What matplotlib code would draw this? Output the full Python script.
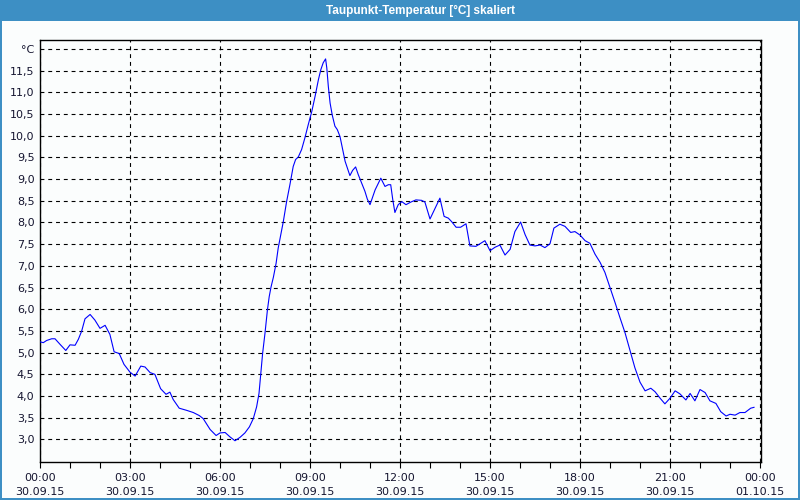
import matplotlib
matplotlib.use("Agg")
import matplotlib.pyplot as plt
from matplotlib.patches import Rectangle
from matplotlib.ticker import FixedLocator, MultipleLocator

title = "Taupunkt-Temperatur [°C] skaliert"

hours = [0.0, 0.11, 0.22, 0.39, 0.5, 0.67, 0.86, 1.0, 1.17, 1.28, 1.39, 1.5, 1.67, 1.83,
         2.0, 2.17, 2.33, 2.47, 2.64, 2.8, 3.0, 3.17, 3.36, 3.5, 3.67, 3.83, 4.02, 4.2,
         4.33, 4.44, 4.64, 4.89, 5.11, 5.31, 5.44, 5.67, 5.87, 6.0, 6.17, 6.33, 6.5, 6.67,
         6.83, 6.98, 7.11, 7.22, 7.3, 7.36, 7.42, 7.5, 7.58, 7.64, 7.7, 7.78, 7.87, 7.94,
         8.02, 8.11, 8.22, 8.33, 8.44, 8.52, 8.61, 8.72, 8.83, 8.94, 9.06, 9.17, 9.28, 9.36,
         9.44, 9.52, 9.56, 9.61, 9.67, 9.74, 9.83, 9.91, 10.0, 10.09, 10.17, 10.26, 10.33,
         10.42, 10.52, 10.61, 10.72, 10.83, 10.91, 11.0, 11.17, 11.36, 11.5, 11.61, 11.69,
         11.76, 11.83, 11.94, 12.06, 12.2, 12.36, 12.53, 12.72, 12.83, 13.0, 13.17, 13.33,
         13.47, 13.61, 13.72, 13.87, 14.02, 14.2, 14.33, 14.53, 14.69, 14.83, 15.0, 15.17,
         15.33, 15.5, 15.67, 15.83, 16.02, 16.17, 16.33, 16.5, 16.67, 16.83, 17.0, 17.13,
         17.33, 17.5, 17.69, 17.83, 18.0, 18.17, 18.33, 18.5, 18.67, 18.83, 19.0, 19.17,
         19.33, 19.5, 19.67, 19.83, 20.0, 20.17, 20.36, 20.5, 20.67, 20.83, 21.0, 21.17,
         21.33, 21.53, 21.67, 21.83, 22.0, 22.17, 22.33, 22.53, 22.69, 22.87, 23.0, 23.17,
         23.33, 23.5, 23.69, 23.8]

dewpoint = [5.25, 5.23, 5.28, 5.32, 5.32, 5.19, 5.05, 5.18, 5.17, 5.31, 5.5, 5.78, 5.88, 5.75,
            5.56, 5.63, 5.42, 5.02, 4.98, 4.73, 4.55, 4.46, 4.69, 4.67, 4.54, 4.5, 4.17, 4.04,
            4.09, 3.92, 3.72, 3.67, 3.62, 3.55, 3.48, 3.23, 3.09, 3.15, 3.16, 3.06, 2.97, 3.05,
            3.15, 3.29, 3.48, 3.75, 4.06, 4.52, 4.98, 5.45, 5.98, 6.29, 6.51, 6.74, 7.06, 7.41,
            7.7, 8.02, 8.48, 8.87, 9.29, 9.45, 9.51, 9.68, 9.95, 10.25, 10.56, 10.91, 11.29, 11.52,
            11.68, 11.77, 11.56, 11.14, 10.75, 10.48, 10.22, 10.14, 9.98, 9.68, 9.41, 9.22, 9.08,
            9.2, 9.28, 9.1, 8.91, 8.72, 8.54, 8.41, 8.75, 9.02, 8.83, 8.87, 8.87,
            8.52, 8.23, 8.41, 8.48, 8.41, 8.47, 8.52, 8.51, 8.47, 8.08, 8.33, 8.56,
            8.14, 8.1, 8.02, 7.89, 7.89, 7.97, 7.46, 7.45, 7.52, 7.58, 7.35, 7.43,
            7.48, 7.25, 7.38, 7.79, 8.01, 7.72, 7.48, 7.46, 7.48, 7.42, 7.51, 7.87,
            7.96, 7.91, 7.77, 7.79, 7.71, 7.58, 7.52, 7.27, 7.08, 6.85, 6.5, 6.15,
            5.81, 5.46, 5.04, 4.65, 4.32, 4.12, 4.18, 4.1, 3.95, 3.82, 3.95, 4.12,
            4.05, 3.91, 4.06, 3.89, 4.15, 4.08, 3.89, 3.83, 3.64, 3.54, 3.58, 3.56,
            3.62, 3.62, 3.72, 3.74]

y_ticks = [3.0, 3.5, 4.0, 4.5, 5.0, 5.5, 6.0, 6.5, 7.0, 7.5, 8.0, 8.5, 9.0, 9.5, 10.0,
           10.5, 11.0, 11.5, 12.0]
y_labels = ["3,0", "3,5", "4,0", "4,5", "5,0", "5,5", "6,0", "6,5", "7,0", "7,5", "8,0",
            "8,5", "9,0", "9,5", "10,0", "10,5", "11,0", "11,5", "°C"]
x_ticks = [0, 3, 6, 9, 12, 15, 18, 21, 24]
x_labels = ["00:00\n30.09.15", "03:00\n30.09.15", "06:00\n30.09.15", "09:00\n30.09.15",
            "12:00\n30.09.15", "15:00\n30.09.15", "18:00\n30.09.15", "21:00\n30.09.15",
            "00:00\n01.10.15"]

BAR = "#3d8fc4"
TXT = "#151530"
BG = "#fbfdfd"

fig = plt.figure(figsize=(8, 5), dpi=100, facecolor=BG)

# title bar and window border
fig.patches.append(Rectangle((0, 1 - 21 / 500), 1, 21 / 500, transform=fig.transFigure,
                             facecolor=BAR, edgecolor="none", zorder=0))
fig.patches.append(Rectangle((0, 0), 2 / 800, 1, transform=fig.transFigure,
                             facecolor=BAR, edgecolor="none", zorder=0))
fig.patches.append(Rectangle((1 - 2 / 800, 0), 2 / 800, 1, transform=fig.transFigure,
                             facecolor=BAR, edgecolor="none", zorder=0))
fig.patches.append(Rectangle((0, 0), 1, 2 / 500, transform=fig.transFigure,
                             facecolor=BAR, edgecolor="none", zorder=0))
fig.text(420 / 800, 1 - 11 / 500, title, color="white", fontsize=8.5, fontweight="bold",
         family="Liberation Sans", ha="center", va="center")

ax = fig.add_axes([40 / 800, 38 / 500, 721 / 800, 422 / 500])
ax.set_facecolor(BG)
ax.plot(hours, dewpoint, color="#0000ff", lw=0.8, zorder=3)

ax.set_xlim(0, 24.033)
ax.set_ylim(2.48, 12.205)

ax.yaxis.set_major_locator(FixedLocator(y_ticks))
ax.set_yticklabels(y_labels)
ax.xaxis.set_major_locator(FixedLocator(x_ticks))
ax.set_xticklabels(x_labels)
ax.xaxis.set_minor_locator(MultipleLocator(1))

ax.tick_params(axis="y", length=0, pad=4, labelsize=8, labelcolor=TXT)
ax.tick_params(axis="x", which="major", length=4, width=0.8, direction="out", pad=4,
               labelsize=8, labelcolor=TXT, color="black")
ax.tick_params(axis="x", which="minor", length=4, width=0.8, direction="out", color="black")
for lab in ax.get_xticklabels():
    lab.set_linespacing(1.5)

ax.grid(True, which="major", color="black", lw=0.8, linestyle=(0, (3.5, 3.5)), zorder=1)
for s in ax.spines.values():
    s.set_color("black")
    s.set_linewidth(1.0)

fig.savefig("out.png", dpi=100, facecolor=BG)
